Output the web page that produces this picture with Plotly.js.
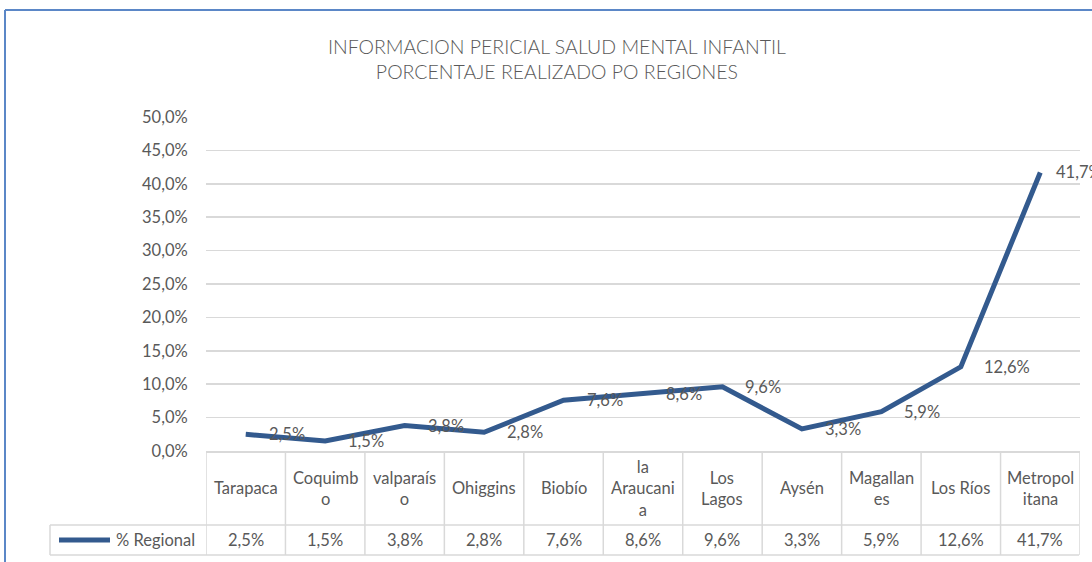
<!DOCTYPE html>
<html>
<head>
<meta charset="utf-8">
<script src="https://cdn.plot.ly/plotly-3.0.1.min.js"></script>
<style>
html,body{margin:0;padding:0;background:#fff;overflow:hidden;}
#chart{width:1092px;height:562px;}
</style>
</head>
<body>
<div id="chart"></div>
<script>
// ---- data ----
const regions = ['Tarapaca','Coquimbo','valparaíso','Ohiggins','Biobío','la Araucania','Los Lagos','Aysén','Magallanes','Los Ríos','Metropolitana'];
const regionCellLabels = ['Tarapaca','Coquimb<br>o','valparaís<br>o','Ohiggins','Biobío','la<br>Araucani<br>a','Los<br>Lagos','Aysén','Magallan<br>es','Los Ríos','Metropol<br>itana'];
const regionalPct = [0.025,0.015,0.038,0.028,0.076,0.086,0.096,0.033,0.059,0.126,0.417];
const seriesName = '% Regional';
const titleLines = ['INFORMACION PERICIAL SALUD MENTAL INFANTIL','PORCENTAJE REALIZADO PO REGIONES'];

// ---- layout geometry (pixels) ----
const W = 1092, H = 562;
const L = 206, R = 12, T = 117, B = 111;
const pw = W - L - R, ph = H - T - B;
const px = v => (v - L) / pw;          // pixel x -> paper x
const py = v => (H - B - v) / ph;      // pixel y -> paper y

const FONT = 'Lato, "Open Sans", sans-serif';
const GREY = '#595959';
const LINE = '#335A8E';
const GRID = '#D9D9D9';
const FS = 16.5;

const fmt = v => (v * 100).toFixed(1).replace('.', ',') + '%';

const xIdx = regions.map((_, i) => i);

const trace = {
  type: 'scatter', mode: 'lines',
  x: xIdx, y: regionalPct, name: seriesName,
  line: {color: LINE, width: 5},
  hoverinfo: 'skip'
};

const annotations = [];
// data labels
regionalPct.forEach((v, i) => {
  annotations.push({x: i, y: v, xref: 'x', yref: 'y', text: fmt(v), showarrow: false,
    xanchor: 'left', yanchor: 'middle', xshift: i === regionalPct.length - 1 ? 14 : 21,
    font: {family: FONT, size: FS, color: GREY}});
});
// table category row
regionCellLabels.forEach((lab, i) => {
  annotations.push({x: i, y: py(488), xref: 'x', yref: 'paper', text: lab, showarrow: false,
    xanchor: 'center', yanchor: 'middle', font: {family: FONT, size: FS, color: GREY}});
});
// table value row
regionalPct.forEach((v, i) => {
  annotations.push({x: i, y: py(540), xref: 'x', yref: 'paper', text: fmt(v), showarrow: false,
    xanchor: 'center', yanchor: 'middle', font: {family: FONT, size: FS, color: GREY}});
});
// legend label
annotations.push({x: px(114), y: py(540), xref: 'paper', yref: 'paper', text: seriesName, showarrow: false,
  xanchor: 'left', yanchor: 'middle', font: {family: FONT, size: FS, color: GREY}});

const shapes = [];
const n = regions.length;
for (let i = 0; i <= n; i++) {
  shapes.push({type: 'line', xref: 'x', yref: 'paper', x0: i - 0.5, x1: i - 0.5, y0: 0, y1: py(555),
    line: {color: GRID, width: 1.5}});
}
[525, 555].forEach(yy => {
  shapes.push({type: 'line', xref: 'paper', yref: 'paper', x0: px(50), x1: px(L + pw - 1), y0: py(yy), y1: py(yy),
    line: {color: GRID, width: 1.5}});
});
shapes.push({type: 'line', xref: 'paper', yref: 'paper', x0: px(50), x1: px(50), y0: py(525), y1: py(555),
  line: {color: GRID, width: 1.5}});
// legend line sample
shapes.push({type: 'line', xref: 'paper', yref: 'paper', x0: px(59), x1: px(110), y0: py(540), y1: py(540),
  line: {color: LINE, width: 5}});
// outer frame (blue)
shapes.push({type: 'line', xref: 'paper', yref: 'paper', x0: px(5), x1: px(5), y0: py(10), y1: py(600),
  line: {color: '#5B87C7', width: 2}});
shapes.push({type: 'line', xref: 'paper', yref: 'paper', x0: px(5), x1: px(1200), y0: py(10), y1: py(10),
  line: {color: '#5B87C7', width: 2}});

const layout = {
  width: W, height: H,
  margin: {l: L, r: R, t: T, b: B, pad: 0},
  paper_bgcolor: '#fff', plot_bgcolor: '#fff',
  separators: ',.',
  showlegend: false,
  font: {family: FONT, color: GREY},
  title: {text: titleLines.join('<br>'), x: 0.51, xanchor: 'center', y: 1 - 54 / H, yanchor: 'middle',
    font: {family: FONT, size: 19.5, color: GREY, weight: 300}},
  xaxis: {range: [-0.5, n - 0.5], showgrid: false, zeroline: false, showticklabels: false,
    showline: true, linecolor: GRID, linewidth: 1.5, fixedrange: true},
  yaxis: {range: [0, 0.5], dtick: 0.05, tick0: 0, tickformat: '.1%', showgrid: true, gridcolor: GRID, gridwidth: 1.5,
    zeroline: false, showline: false, ticks: 'outside', ticklen: 14, tickcolor: 'rgba(0,0,0,0)',
    tickfont: {family: FONT, size: FS, color: GREY}, fixedrange: true},
  annotations: annotations,
  shapes: shapes
};

Plotly.newPlot('chart', [trace], layout, {displayModeBar: false, staticPlot: true});
</script>
</body>
</html>
